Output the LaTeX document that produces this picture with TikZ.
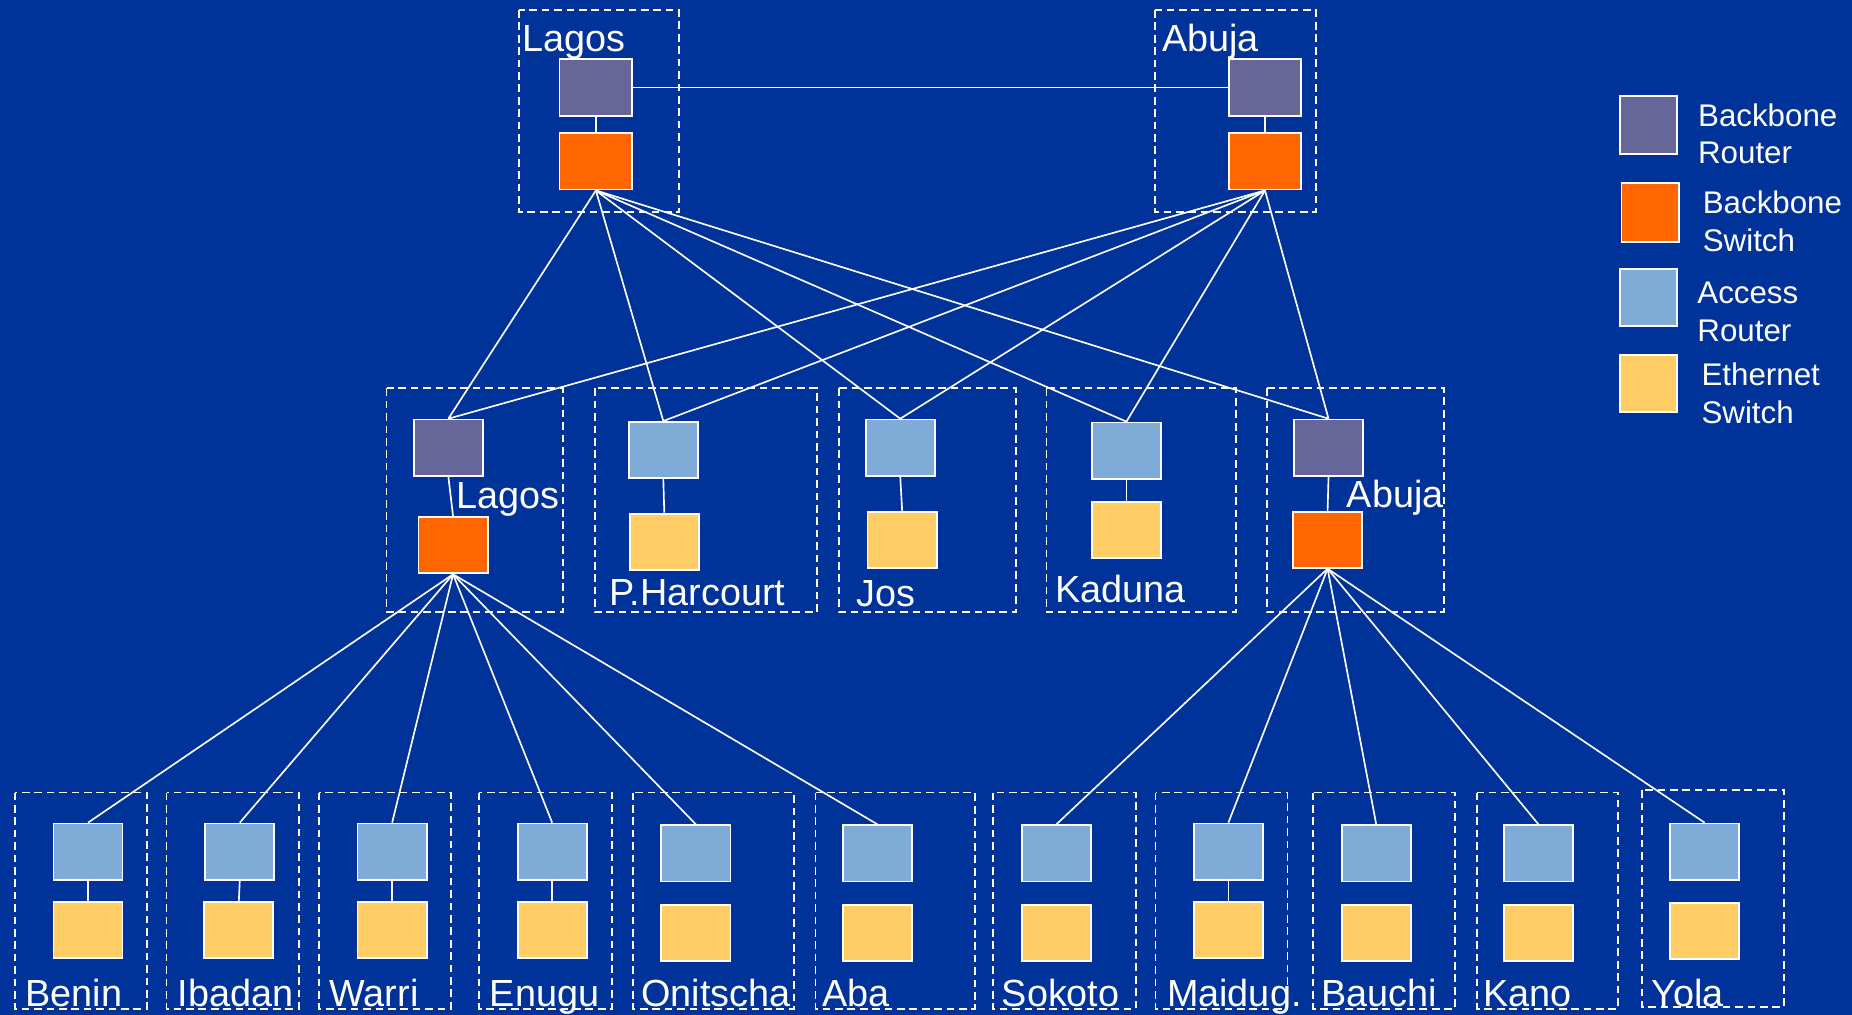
\documentclass[tikz,border=0pt]{standalone}
\usepackage{fontspec}
\setmainfont{Liberation Sans}
\definecolor{bgblue}{HTML}{003399}
\definecolor{bbrouter}{HTML}{666699}
\definecolor{bbswitch}{HTML}{FF6600}
\definecolor{accrouter}{HTML}{7FACD6}
\definecolor{ethswitch}{HTML}{FFCC66}
\begin{document}
\begin{tikzpicture}[x=1pt,y=-1pt,
  dev/.style={draw=white, line width=1.5pt, inner sep=0pt, minimum width=58.5pt, minimum height=47.5pt},
  br/.style={dev, fill=bbrouter},
  bs/.style={dev, fill=bbswitch},
  ar/.style={dev, fill=accrouter},
  es/.style={dev, fill=ethswitch},
  big/.style={minimum width=61.5pt, minimum height=48pt},
  grp/.style={draw=white, line width=1.5pt, dash pattern=on 6.5pt off 4pt},
  link/.style={draw=white, line width=1.4pt},
  lbl/.style={text=white, font=\fontsize{32}{38}\selectfont, inner sep=0pt, anchor=base west, xshift=1.5pt},
  lgt/.style={text=white, font=\fontsize{26.5}{32}\selectfont, inner sep=0pt, anchor=base west, xshift=1.5pt}]
\fill[bgblue] (0,0) rectangle (1568,859);
\useasboundingbox (0,0) rectangle (1568,859);

% group boxes
\draw[grp] (439.4,8.5) rectangle (575,179.8);
\draw[grp] (977.9,8.5) rectangle (1114,179.8);
\draw[grp] (327.3,328.8) rectangle (476.7,518.4);
\draw[grp] (503.5,328.8) rectangle (691.5,518.4);
\draw[grp] (710.2,328.8) rectangle (860,518.4);
\draw[grp] (886,328.8) rectangle (1046.5,518.4);
\draw[grp] (1073,328.8) rectangle (1222.5,518.4);
\draw[grp] (12.4,671) rectangle (124.5,854);
\draw[grp] (141,671) rectangle (253,854);
\draw[grp] (270,671) rectangle (381.7,854);
\draw[grp] (405.7,671) rectangle (518,854);
\draw[grp] (535.8,671) rectangle (672,854);
\draw[grp] (690.5,671) rectangle (825.3,854);
\draw[grp] (840.4,671) rectangle (961.6,854);
\draw[grp] (978.3,671) rectangle (1090,854);
\draw[grp] (1111.8,671) rectangle (1231.8,854);
\draw[grp] (1250.8,671) rectangle (1369.8,854);
\draw[grp] (1389.9,669) rectangle (1510.6,852.3);

% top level
\node[br,big] (LR) at (504.5,74) {};
\node[bs,big] (LS) at (504.5,136.5) {};
\node[br,big] (AR) at (1071,74) {};
\node[bs,big] (AS) at (1071,136.5) {};

% mid level
\node[br] (mLR) at (379.6,379) {};
\node[bs] (mLS) at (383.6,461.7) {};
\node[ar] (PHR) at (561.6,381) {};
\node[es] (PHE) at (562.4,458.6) {};
\node[ar] (JR) at (762.2,379) {};
\node[es] (JE) at (763.8,457) {};
\node[ar] (KR) at (953.7,381.5) {};
\node[es] (KE) at (953.7,448.5) {};
\node[br] (mAR) at (1124.8,379) {};
\node[bs] (mAS) at (1124,457) {};

% bottom level
\node[ar] (BeR) at (74.5,721) {};    \node[es] (BeE) at (74.5,787.5) {};
\node[ar] (IbR) at (203,721) {};     \node[es] (IbE) at (202.2,787.5) {};
\node[ar] (WaR) at (332,721) {};     \node[es] (WaE) at (332,787.5) {};
\node[ar] (EnR) at (467.5,721) {};   \node[es] (EnE) at (467.5,787.5) {};
\node[ar] (OnR) at (589.2,722.5) {}; \node[es] (OnE) at (589.2,789.8) {};
\node[ar] (AbR) at (743,722.5) {};   \node[es] (AbE) at (743,789.8) {};
\node[ar] (SoR) at (894.3,722.5) {}; \node[es] (SoE) at (894.3,789.8) {};
\node[ar] (MaR) at (1040,721) {};    \node[es] (MaE) at (1040,787.5) {};
\node[ar] (BaR) at (1165.2,722.5) {};\node[es] (BaE) at (1165.2,789.8) {};
\node[ar] (KaR) at (1302.6,722.5) {};\node[es] (KaE) at (1302.6,789.8) {};
\node[ar] (YoR) at (1443.2,721) {};  \node[es] (YoE) at (1443.2,788.4) {};

% legend
\node[br, minimum width=48.4pt, minimum height=49.4pt] (lgBR) at (1395.8,105.7) {};
\node[bs, minimum width=48.8pt, minimum height=49.4pt] (lgBS) at (1397.2,179.9) {};
\node[ar, minimum width=48.4pt, minimum height=47.7pt] (lgAR) at (1395.8,251.9) {};
\node[es, minimum width=48.4pt, minimum height=48.4pt] (lgES) at (1395.8,324.8) {};

% connectors
\draw[link] (LR.east) -- (AR.west);
\draw[link] (LR.south) -- (LS.north);
\draw[link] (AR.south) -- (AS.north);
\foreach \t in {mLR,PHR,JR,KR,mAR}{
  \draw[link] (LS.south) -- (\t.north);
  \draw[link] (AS.south) -- (\t.north);
}
\draw[link] (mLR.south) -- (mLS.north);
\draw[link] (PHR.south) -- (PHE.north);
\draw[link] (JR.south) -- (JE.north);
\draw[link] (KR.south) -- (KE.north);
\draw[link] (mAR.south) -- (mAS.north);
\foreach \t in {BeR,IbR,WaR,EnR,OnR,AbR}{
  \draw[link] (mLS.south) -- (\t.north);
}
\foreach \t in {SoR,MaR,BaR,KaR,YoR}{
  \draw[link] (mAS.south) -- (\t.north);
}
\draw[link] (BeR.south) -- (BeE.north);
\draw[link] (IbR.south) -- (IbE.north);
\draw[link] (WaR.south) -- (WaE.north);
\draw[link] (EnR.south) -- (EnE.north);
\draw[link] (MaR.south) -- (MaE.north);

% labels
\node[lbl] (tLag) at (440.5,43.8) {Lagos};
\node[lbl] (tAbu) at (982.4,43.8) {Abuja};
\node[lbl] (mLag) at (385,430.4) {Lagos};
\node[lbl] (mPH) at (514.3,513) {P.Harcourt};
\node[lbl] (mJos) at (723.6,513.6) {Jos};
\node[lbl] (mKad) at (892,510.3) {Kaduna};
\node[lbl] (mAbu) at (1138.7,429.8) {Abuja};
\node[lbl] (bBe) at (19.8,852.3) {Benin};
\node[lbl] (bIb) at (148.7,852.3) {Ibadan};
\node[lbl] (bWa) at (277.4,852.3) {Warri};
\node[lbl] (bEn) at (413.1,852.3) {Enugu};
\node[lbl] (bOn) at (541.2,852.3) {Onitscha};
\node[lbl] (bAb) at (694.5,852.3) {Aba};
\node[lbl] (bSo) at (846.5,852.3) {Sokoto};
\node[lbl] (bMa) at (986.4,852.3) {Maidug.};
\node[lbl] (bBa) at (1117.1,852.3) {Bauchi};
\node[lbl] (bKa) at (1254.5,852.3) {Kano};
\node[lbl] (bYo) at (1396.3,852.3) {Yola};

\node[lgt] (l1a) at (1436,106.7) {Backbone};
\node[lgt] (l1b) at (1436,138.3) {Router};
\node[lgt] (l2a) at (1440,180.6) {Backbone};
\node[lgt] (l2b) at (1440,213) {Switch};
\node[lgt] (l3a) at (1435.4,256.8) {Access};
\node[lgt] (l3b) at (1435.4,289.3) {Router};
\node[lgt] (l4a) at (1438.9,326.8) {Ethernet};
\node[lgt] (l4b) at (1438.9,358.4) {Switch};
\end{tikzpicture}
\end{document}
